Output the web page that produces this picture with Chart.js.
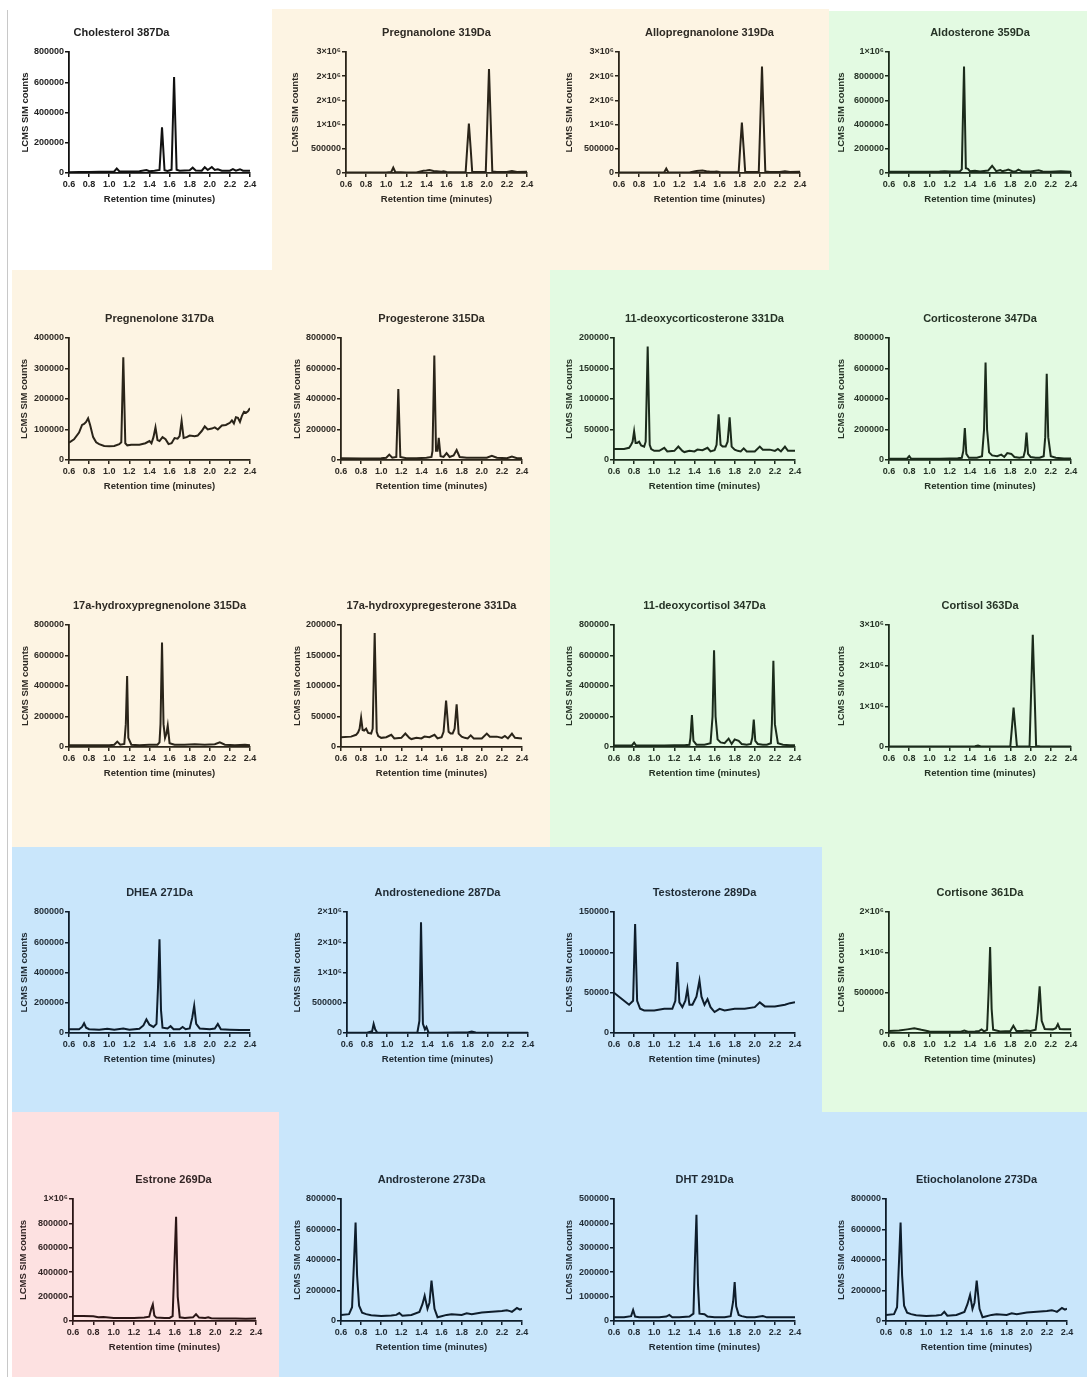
<!DOCTYPE html>
<html>
<head>
<meta charset="utf-8">
<title>Steroid LCMS SIM chromatograms</title>
<script src="https://cdn.jsdelivr.net/npm/chart.js@4.4.1/dist/chart.umd.min.js"></script>
<style>
  html, body { margin: 0; padding: 0; background: #ffffff; }
  #page { position: relative; width: 1087px; height: 1377px; overflow: hidden; background: #ffffff; }
  .zone { position: absolute; }
  #page canvas { position: absolute; }
</style>
</head>
<body>
<div id="page">
  <div class="zone" style="left:7px;top:10px;width:1px;height:1367px;background:#c8c8c8"></div>
  <div class="zone" style="left:272px;top:9px;width:557px;height:261px;background:#fdf4e3"></div>
  <div class="zone" style="left:829px;top:11px;width:258px;height:259px;background:#e3fae2"></div>
  <div class="zone" style="left:12px;top:270px;width:538px;height:577px;background:#fdf4e3"></div>
  <div class="zone" style="left:550px;top:270px;width:537px;height:577px;background:#e3fae2"></div>
  <div class="zone" style="left:12px;top:847px;width:810px;height:265px;background:#c9e6fb"></div>
  <div class="zone" style="left:822px;top:847px;width:265px;height:265px;background:#e3fae2"></div>
  <div class="zone" style="left:12px;top:1112px;width:267px;height:265px;background:#fde1e1"></div>
  <div class="zone" style="left:279px;top:1112px;width:808px;height:265px;background:#c9e6fb"></div>
</div>
<script>
// Retention time (minutes) and SIM counts for each monitored steroid ion.
const cholesterolTime = [0.60,0.70,0.80,0.90,1.00,1.05,1.075,1.10,1.20,1.30,1.37,1.40,1.45,1.50,1.525,1.55,1.58,1.62,1.645,1.67,1.70,1.80,1.83,1.86,1.92,1.95,1.98,2.02,2.05,2.08,2.12,2.20,2.23,2.26,2.30,2.33,2.40];
const cholesterolCounts = [5000,6000,7000,8000,9000,10000,30000,12000,10000,12000,20000,12000,15000,20000,302000,18000,14000,22000,635000,22000,15000,18000,35000,16000,15000,38000,20000,40000,20000,25000,15000,15000,25000,15000,25000,15000,15000];

const pregnanoloneTime = [0.60,0.80,1.00,1.05,1.07,1.09,1.20,1.30,1.37,1.40,1.43,1.47,1.50,1.55,1.57,1.60,1.70,1.79,1.805,1.822,1.84,1.855,1.95,1.99,2.005,2.022,2.04,2.055,2.10,2.20,2.25,2.30,2.40];
const pregnanoloneCounts = [10000,10000,12000,20000,110000,20000,10000,12000,45000,50000,60000,40000,35000,25000,35000,20000,15000,20000,500000,1020000,500000,25000,20000,20000,1000000,2150000,1000000,30000,20000,20000,40000,20000,25000];

const allopregnanoloneTime = [0.60,0.80,1.00,1.05,1.07,1.09,1.20,1.30,1.37,1.40,1.43,1.47,1.50,1.55,1.57,1.60,1.70,1.79,1.805,1.822,1.84,1.855,1.95,1.99,2.005,2.022,2.04,2.055,2.10,2.20,2.25,2.30,2.40];
const allopregnanoloneCounts = [10000,10000,12000,15000,90000,15000,10000,12000,40000,45000,50000,35000,30000,25000,30000,20000,15000,20000,520000,1040000,500000,25000,20000,20000,1050000,2200000,1000000,30000,20000,20000,35000,20000,25000];

const aldosteroneTime = [0.60,0.80,1.00,1.10,1.15,1.20,1.30,1.32,1.342,1.36,1.38,1.40,1.45,1.50,1.58,1.62,1.66,1.70,1.72,1.75,1.78,1.82,1.85,1.88,1.92,2.00,2.08,2.12,2.20,2.30,2.40];
const aldosteroneCounts = [10000,10000,10000,12000,15000,12000,12000,30000,880000,40000,35000,15000,18000,12000,20000,60000,15000,25000,15000,20000,28000,15000,12000,28000,12000,12000,22000,12000,10000,15000,10000];

const pregnenoloneTime = [0.60,0.65,0.70,0.73,0.75,0.77,0.79,0.81,0.84,0.87,0.90,0.95,1.00,1.05,1.10,1.12,1.14,1.16,1.18,1.22,1.30,1.36,1.40,1.42,1.44,1.46,1.48,1.50,1.53,1.56,1.59,1.62,1.65,1.68,1.70,1.72,1.74,1.77,1.80,1.85,1.88,1.92,1.95,1.98,2.02,2.05,2.08,2.12,2.16,2.20,2.22,2.24,2.26,2.28,2.30,2.32,2.34,2.36,2.38,2.40];
const pregnenoloneCounts = [57000,68000,90000,115000,118000,125000,137000,115000,75000,58000,52000,46000,45000,46000,52000,58000,337000,55000,48000,50000,50000,55000,62000,55000,75000,107000,65000,62000,75000,68000,52000,55000,72000,70000,78000,128000,72000,75000,80000,78000,80000,95000,110000,100000,103000,107000,100000,113000,115000,122000,130000,120000,140000,138000,125000,145000,158000,155000,160000,170000];

const progesteroneTime = [0.60,0.80,1.00,1.05,1.08,1.11,1.15,1.17,1.19,1.25,1.35,1.45,1.50,1.51,1.528,1.545,1.56,1.572,1.59,1.62,1.65,1.68,1.72,1.75,1.78,1.85,1.95,2.05,2.10,2.15,2.25,2.30,2.35,2.40];
const progesteroneCounts = [12000,10000,12000,15000,35000,15000,20000,465000,20000,12000,12000,15000,20000,60000,685000,60000,60000,145000,25000,20000,45000,20000,30000,65000,20000,15000,15000,15000,28000,15000,12000,22000,12000,12000];

const deoxycorticosteroneTime = [0.60,0.70,0.75,0.77,0.785,0.80,0.815,0.83,0.85,0.87,0.90,0.915,0.935,0.955,0.97,1.00,1.05,1.10,1.13,1.20,1.24,1.28,1.30,1.35,1.40,1.43,1.48,1.53,1.56,1.60,1.62,1.64,1.66,1.68,1.71,1.73,1.75,1.77,1.80,1.83,1.86,1.89,1.92,2.00,2.05,2.08,2.15,2.20,2.23,2.26,2.30,2.33,2.40];
const deoxycorticosteroneCounts = [18000,18000,20000,25000,30000,47000,28000,28000,30000,24000,22000,30000,186000,25000,18000,15000,15000,20000,14000,15000,22000,15000,13000,15000,14000,17000,16000,20000,14000,16000,25000,75000,25000,22000,22000,30000,70000,22000,17000,15000,14000,19000,14000,14000,22000,17000,17000,15000,18000,14000,22000,15000,15000];

const corticosteroneTime = [0.60,0.70,0.78,0.80,0.82,0.90,1.00,1.10,1.20,1.28,1.32,1.335,1.35,1.365,1.39,1.47,1.52,1.54,1.555,1.57,1.59,1.62,1.67,1.71,1.74,1.77,1.81,1.84,1.89,1.93,1.945,1.96,1.975,2.00,2.05,2.09,2.13,2.145,2.16,2.175,2.20,2.25,2.33,2.40];
const corticosteroneCounts = [8000,8000,10000,25000,8000,8000,8000,8000,10000,12000,15000,60000,210000,40000,15000,15000,25000,200000,640000,200000,50000,30000,25000,35000,20000,45000,40000,20000,15000,20000,60000,180000,40000,20000,15000,15000,25000,150000,565000,150000,25000,15000,10000,10000];

const hydroxypregnenoloneTime = [0.60,0.80,1.00,1.05,1.08,1.11,1.15,1.165,1.178,1.19,1.22,1.30,1.40,1.48,1.50,1.51,1.525,1.54,1.555,1.57,1.582,1.60,1.65,1.75,1.85,1.95,2.05,2.10,2.15,2.25,2.35,2.40];
const hydroxypregnenoloneCounts = [12000,12000,12000,15000,35000,15000,20000,150000,465000,60000,15000,12000,15000,15000,30000,150000,685000,150000,60000,90000,140000,25000,15000,15000,18000,15000,18000,30000,15000,12000,15000,12000];

const hydroxyprogesteroneTime = [0.60,0.70,0.75,0.77,0.785,0.80,0.815,0.83,0.85,0.87,0.90,0.915,0.935,0.955,0.97,1.00,1.05,1.10,1.13,1.20,1.24,1.28,1.30,1.35,1.40,1.43,1.48,1.53,1.56,1.60,1.62,1.645,1.67,1.69,1.71,1.73,1.75,1.77,1.80,1.83,1.86,1.89,1.92,2.00,2.05,2.08,2.15,2.20,2.23,2.26,2.30,2.33,2.40];
const hydroxyprogesteroneCounts = [16000,17000,20000,24000,30000,48000,28000,27000,30000,23000,22000,30000,187000,25000,18000,15000,16000,20000,14000,15000,22000,15000,13000,15000,14000,17000,16000,20000,14000,16000,25000,76000,25000,22000,22000,30000,70000,22000,17000,15000,14000,19000,14000,14000,22000,17000,17000,15000,18000,14000,22000,15000,14000];

const deoxycortisolTime = [0.60,0.70,0.78,0.80,0.82,0.90,1.00,1.10,1.20,1.30,1.35,1.36,1.375,1.39,1.42,1.50,1.56,1.58,1.595,1.61,1.63,1.66,1.70,1.74,1.77,1.80,1.84,1.87,1.92,1.96,1.975,1.99,2.005,2.03,2.08,2.12,2.16,2.17,2.185,2.20,2.23,2.28,2.35,2.40];
const deoxycortisolCounts = [10000,10000,12000,28000,10000,10000,10000,10000,12000,12000,15000,60000,210000,40000,15000,15000,25000,200000,635000,200000,50000,30000,25000,55000,20000,50000,40000,20000,15000,20000,60000,180000,40000,20000,15000,15000,25000,150000,565000,150000,25000,15000,12000,12000];

const cortisolTime = [0.60,1.00,1.40,1.45,1.48,1.51,1.60,1.80,1.815,1.832,1.85,1.865,1.95,1.99,2.005,2.022,2.04,2.055,2.10,2.40];
const cortisolCounts = [10000,10000,12000,20000,35000,15000,15000,20000,450000,970000,450000,20000,15000,20000,1300000,2760000,1300000,25000,15000,10000];

const dheaTime = [0.60,0.70,0.73,0.75,0.77,0.80,0.90,0.98,1.05,1.14,1.20,1.30,1.34,1.37,1.40,1.44,1.47,1.485,1.50,1.515,1.53,1.58,1.61,1.64,1.70,1.73,1.76,1.80,1.825,1.845,1.865,1.90,2.00,2.05,2.08,2.11,2.20,2.30,2.40];
const dheaCounts = [25000,25000,40000,65000,35000,25000,22000,28000,22000,30000,22000,28000,50000,90000,55000,40000,60000,300000,620000,150000,35000,30000,45000,25000,25000,40000,25000,30000,100000,180000,60000,30000,25000,30000,60000,25000,22000,20000,20000];

const androstenedioneTime = [0.60,0.80,0.85,0.865,0.88,0.90,1.00,1.20,1.30,1.32,1.336,1.355,1.375,1.39,1.41,1.50,1.70,1.80,1.84,1.88,2.00,2.40];
const androstenedioneCounts = [5000,5000,30000,150000,60000,8000,5000,5000,8000,200000,1830000,150000,60000,100000,10000,5000,8000,10000,25000,8000,5000,5000];

const testosteroneTime = [0.60,0.65,0.70,0.75,0.79,0.81,0.83,0.86,0.90,1.00,1.10,1.18,1.21,1.23,1.25,1.28,1.31,1.33,1.35,1.38,1.42,1.45,1.47,1.50,1.53,1.56,1.60,1.65,1.70,1.80,1.90,2.00,2.05,2.10,2.20,2.30,2.35,2.40];
const testosteroneCounts = [50000,45000,40000,35000,40000,135000,40000,30000,28000,28000,30000,30000,40000,88000,38000,32000,40000,55000,35000,35000,45000,65000,45000,35000,42000,32000,26000,30000,28000,30000,30000,32000,38000,33000,33000,35000,37000,38000];

const cortisoneTime = [0.60,0.70,0.78,0.85,0.92,1.00,1.10,1.25,1.31,1.345,1.38,1.45,1.49,1.515,1.54,1.57,1.585,1.60,1.615,1.63,1.70,1.80,1.83,1.86,1.92,1.96,2.00,2.05,2.07,2.09,2.11,2.14,2.22,2.25,2.27,2.29,2.33,2.40];
const cortisoneCounts = [25000,30000,45000,60000,40000,20000,15000,15000,15000,30000,15000,20000,25000,45000,20000,40000,500000,1066000,300000,40000,20000,25000,90000,25000,25000,30000,25000,40000,250000,580000,150000,50000,45000,60000,110000,50000,45000,45000];

const estroneTime = [0.60,0.70,0.80,0.85,0.90,1.00,1.10,1.20,1.30,1.35,1.37,1.385,1.40,1.42,1.50,1.55,1.58,1.597,1.614,1.63,1.65,1.70,1.78,1.81,1.84,1.90,1.93,1.96,2.05,2.20,2.30,2.40];
const estroneCounts = [40000,40000,38000,30000,32000,25000,25000,25000,28000,35000,100000,135000,45000,28000,25000,25000,40000,450000,855000,200000,30000,25000,30000,55000,28000,25000,30000,22000,20000,20000,18000,20000];

const androsteroneTime = [0.60,0.68,0.71,0.73,0.745,0.76,0.78,0.81,0.85,0.90,1.00,1.10,1.15,1.18,1.21,1.30,1.38,1.41,1.432,1.46,1.48,1.50,1.53,1.56,1.59,1.65,1.70,1.80,1.85,1.90,2.00,2.10,2.20,2.25,2.28,2.30,2.35,2.38,2.40];
const androsteroneCounts = [40000,45000,90000,400000,645000,300000,100000,55000,45000,38000,32000,36000,40000,52000,35000,40000,60000,110000,165000,80000,120000,265000,80000,25000,30000,40000,45000,40000,50000,45000,55000,60000,65000,70000,65000,60000,85000,75000,80000];

const dhtTime = [0.60,0.70,0.77,0.79,0.81,0.85,0.95,1.05,1.12,1.15,1.18,1.25,1.35,1.39,1.405,1.42,1.435,1.45,1.50,1.53,1.60,1.70,1.76,1.785,1.80,1.815,1.84,1.87,1.92,2.00,2.08,2.12,2.20,2.30,2.40];
const dhtCounts = [15000,15000,20000,45000,18000,15000,15000,15000,18000,25000,15000,15000,18000,30000,250000,435000,150000,30000,28000,18000,15000,15000,20000,80000,160000,60000,25000,20000,15000,15000,20000,15000,15000,15000,15000];

const etiocholanoloneTime = [0.60,0.68,0.71,0.73,0.745,0.76,0.78,0.81,0.85,0.90,1.00,1.10,1.15,1.18,1.21,1.30,1.38,1.41,1.436,1.46,1.48,1.502,1.53,1.56,1.59,1.65,1.70,1.80,1.85,1.90,2.00,2.10,2.20,2.25,2.28,2.30,2.35,2.38,2.40];
const etiocholanoloneCounts = [40000,45000,90000,400000,645000,300000,100000,55000,45000,38000,32000,36000,40000,60000,35000,40000,60000,110000,170000,80000,120000,265000,80000,25000,30000,40000,45000,40000,50000,45000,55000,60000,65000,70000,65000,60000,85000,75000,80000];

// Shared axis settings
const timeRange = [0.6, 2.4];
const timeStep = 0.2;
const xAxisTitle = 'Retention time (minutes)';
const yAxisTitle = 'LCMS SIM counts';

// Colour themes of the grouped panels
const themes = {
  white: { line: '#111111', text: '#222222' },
  peach: { line: '#2a2419', text: '#2e2a24' },
  green: { line: '#1b2b1b', text: '#263326' },
  blue:  { line: '#0e1d2b', text: '#1f2a33' },
  pink:  { line: '#2b1616', text: '#332626' }
};

// Panel placement: plot box = [left, right, top, bottom] in page pixels
const panels = [
  { title: 'Cholesterol 387Da', t: cholesterolTime, v: cholesterolCounts, yMax: 800000, yStep: 200000, box: [69, 250, 52, 173], theme: 'white', titleDx: -38, yGap: 44 },
  { title: 'Pregnanolone 319Da', t: pregnanoloneTime, v: pregnanoloneCounts, yMax: 2500000, yStep: 500000, box: [346, 527, 52, 173], theme: 'peach', titleDx: 0, yGap: 51 },
  { title: 'Allopregnanolone 319Da', t: allopregnanoloneTime, v: allopregnanoloneCounts, yMax: 2500000, yStep: 500000, box: [619, 800, 52, 173], theme: 'peach', titleDx: 0, yGap: 50 },
  { title: 'Aldosterone 359Da', t: aldosteroneTime, v: aldosteroneCounts, yMax: 1000000, yStep: 200000, box: [889, 1071, 52, 173], theme: 'green', titleDx: 0, yGap: 48 },

  { title: 'Pregnenolone 317Da', t: pregnenoloneTime, v: pregnenoloneCounts, yMax: 400000, yStep: 100000, box: [69, 250, 338, 460], theme: 'peach', titleDx: 0, yGap: 45 },
  { title: 'Progesterone 315Da', t: progesteroneTime, v: progesteroneCounts, yMax: 800000, yStep: 200000, box: [341, 522, 338, 460], theme: 'peach', titleDx: 0, yGap: 44 },
  { title: '11-deoxycorticosterone 331Da', t: deoxycorticosteroneTime, v: deoxycorticosteroneCounts, yMax: 200000, yStep: 50000, box: [614, 795, 338, 460], theme: 'green', titleDx: 0, yGap: 45 },
  { title: 'Corticosterone 347Da', t: corticosteroneTime, v: corticosteroneCounts, yMax: 800000, yStep: 200000, box: [889, 1071, 338, 460], theme: 'green', titleDx: 0, yGap: 48 },

  { title: '17a-hydroxypregnenolone 315Da', t: hydroxypregnenoloneTime, v: hydroxypregnenoloneCounts, yMax: 800000, yStep: 200000, box: [69, 250, 625, 747], theme: 'peach', titleDx: 0, yGap: 44 },
  { title: '17a-hydroxypregesterone 331Da', t: hydroxyprogesteroneTime, v: hydroxyprogesteroneCounts, yMax: 200000, yStep: 50000, box: [341, 522, 625, 747], theme: 'peach', titleDx: 0, yGap: 44 },
  { title: '11-deoxycortisol 347Da', t: deoxycortisolTime, v: deoxycortisolCounts, yMax: 800000, yStep: 200000, box: [614, 795, 625, 747], theme: 'green', titleDx: 0, yGap: 45 },
  { title: 'Cortisol 363Da', t: cortisolTime, v: cortisolCounts, yMax: 3000000, yStep: 1000000, box: [889, 1071, 625, 747], theme: 'green', titleDx: 0, yGap: 48 },

  { title: 'DHEA 271Da', t: dheaTime, v: dheaCounts, yMax: 800000, yStep: 200000, box: [69, 250, 912, 1033], theme: 'blue', titleDx: 0, yGap: 45 },
  { title: 'Androstenedione 287Da', t: androstenedioneTime, v: androstenedioneCounts, yMax: 2000000, yStep: 500000, box: [347, 528, 912, 1033], theme: 'blue', titleDx: 0, yGap: 50 },
  { title: 'Testosterone 289Da', t: testosteroneTime, v: testosteroneCounts, yMax: 150000, yStep: 50000, box: [614, 795, 912, 1033], theme: 'blue', titleDx: 0, yGap: 45 },
  { title: 'Cortisone 361Da', t: cortisoneTime, v: cortisoneCounts, yMax: 1500000, yStep: 500000, box: [889, 1071, 912, 1033], theme: 'green', titleDx: 0, yGap: 48 },

  { title: 'Estrone 269Da', t: estroneTime, v: estroneCounts, yMax: 1000000, yStep: 200000, box: [73, 256, 1199, 1321], theme: 'pink', titleDx: 9, yGap: 50 },
  { title: 'Androsterone 273Da', t: androsteroneTime, v: androsteroneCounts, yMax: 800000, yStep: 200000, box: [341, 522, 1199, 1321], theme: 'blue', titleDx: 0, yGap: 44 },
  { title: 'DHT 291Da', t: dhtTime, v: dhtCounts, yMax: 500000, yStep: 100000, box: [614, 795, 1199, 1321], theme: 'blue', titleDx: 0, yGap: 45 },
  { title: 'Etiocholanolone 273Da', t: etiocholanoloneTime, v: etiocholanoloneCounts, yMax: 800000, yStep: 200000, box: [886, 1067, 1199, 1321], theme: 'blue', titleDx: 0, yGap: 45 }
];

// Margins around each plot box inside its canvas
const AXIS_W = 62, TOP_H = 40, BOTTOM_H = 36, RIGHT_PAD = 16;
const FONT = "'Liberation Sans', Arial, Helvetica, sans-serif";

// Counts in GraphPad style: plain integers, millions as n×10⁶
function countLabel(value) {
  if (value >= 1000000) return Math.round(value / 1000000) + '×10⁶';
  return String(Math.round(value));
}

// Moves a panel title sideways from the centre of its plot box
const titleShift = {
  id: 'titleShift',
  afterLayout(chart, args, opts) {
    const dx = opts && opts.dx ? opts.dx : 0;
    if (chart.titleBlock && dx) {
      chart.titleBlock.left += dx;
      chart.titleBlock.right += dx;
    }
  }
};

const page = document.getElementById('page');

panels.forEach((p) => {
  const [x0, x1, yT, y0] = p.box;
  const colors = themes[p.theme];
  const width = (x1 - x0) + AXIS_W + RIGHT_PAD;
  const height = (y0 - yT) + TOP_H + BOTTOM_H;

  const canvas = document.createElement('canvas');
  canvas.width = width;
  canvas.height = height;
  canvas.style.left = (x0 - AXIS_W) + 'px';
  canvas.style.top = (yT - TOP_H) + 'px';
  canvas.style.width = width + 'px';
  canvas.style.height = height + 'px';
  page.appendChild(canvas);

  const points = p.t.map((t, i) => ({ x: t, y: p.v[i] }));
  const axisTitleSize = 9.5;
  const yTitlePad = AXIS_W - p.yGap - axisTitleSize * 1.2 / 2;

  const gridOpts = {
    drawOnChartArea: false,
    drawTicks: true,
    tickLength: 4,
    color: colors.line,
    lineWidth: 1.5
  };
  const borderOpts = { display: true, color: colors.line, width: 1.8 };
  const tickFont = { family: FONT, size: 9, weight: 'bold' };

  new Chart(canvas, {
    type: 'line',
    data: {
      datasets: [{
        label: p.title,
        data: points,
        borderColor: colors.line,
        borderWidth: 2,
        pointRadius: 0,
        tension: 0,
        fill: false
      }]
    },
    plugins: [titleShift],
    options: {
      responsive: false,
      animation: false,
      devicePixelRatio: 1,
      layout: { padding: { left: 0, right: RIGHT_PAD, top: 0, bottom: 0 } },
      plugins: {
        legend: { display: false },
        tooltip: { enabled: false },
        title: {
          display: true,
          text: p.title,
          fullSize: false,
          color: colors.text,
          font: { family: FONT, size: 11, weight: 'bold' },
          padding: { top: 14.4, bottom: 12.4 }
        },
        titleShift: { dx: p.titleDx }
      },
      scales: {
        x: {
          type: 'linear',
          min: timeRange[0],
          max: timeRange[1],
          afterFit(scale) { scale.height = BOTTOM_H; },
          ticks: {
            stepSize: timeStep,
            autoSkip: false,
            maxRotation: 0,
            padding: 2,
            color: colors.text,
            font: tickFont,
            callback: (v) => Number(v).toFixed(1)
          },
          grid: gridOpts,
          border: borderOpts,
          title: {
            display: true,
            text: xAxisTitle,
            color: colors.text,
            font: { family: FONT, size: axisTitleSize, weight: 'bold' },
            padding: { top: 0, bottom: 4.3 }
          }
        },
        y: {
          type: 'linear',
          min: 0,
          max: p.yMax,
          afterFit(scale) { scale.width = AXIS_W; },
          ticks: {
            stepSize: p.yStep,
            autoSkip: false,
            padding: 1,
            color: colors.text,
            font: tickFont,
            callback: (v) => countLabel(v)
          },
          grid: gridOpts,
          border: borderOpts,
          title: {
            display: true,
            text: yAxisTitle,
            color: colors.text,
            font: { family: FONT, size: axisTitleSize, weight: 'bold' },
            padding: { top: yTitlePad, bottom: 0 }
          }
        }
      }
    }
  });
});
</script>
</body>
</html>
